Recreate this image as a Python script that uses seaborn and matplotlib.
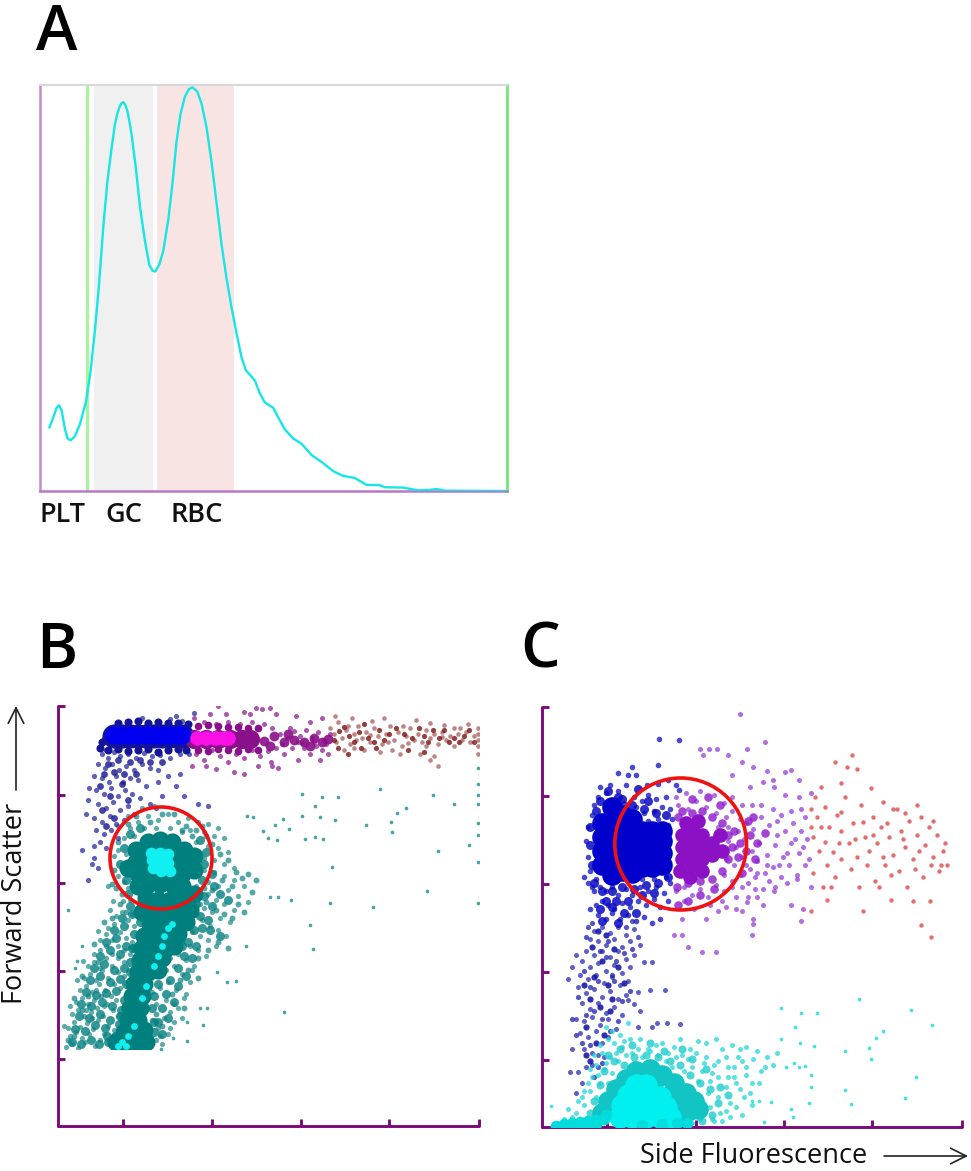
# flow cytometry figure: histogram (A) and two scatter panels (B, C)

import pandas as pd
import seaborn as sns
import matplotlib
matplotlib.use('Agg')
import matplotlib.pyplot as plt
from matplotlib.patches import Circle, FancyArrowPatch, Rectangle

# ---- panel A, histogram curve ----
curve_x = [28, 40, 50, 57, 65, 75, 83, 92, 105, 120, 138, 152, 165, 177, 190, 202, 215, 225, 232, 238, 244, 250,
           256, 262, 268, 275, 288, 300, 315, 328, 338, 346, 358, 370, 385, 398, 410, 422, 435, 447, 458, 472, 485,
           500, 515, 530, 545, 560, 575, 590, 605, 618, 632, 645, 660, 675, 700, 715, 735, 760, 785, 815,
           845, 880, 910, 945, 980, 1020, 1035, 1090, 1135, 1170, 1190, 1215, 1402]
curve_y = [185, 215, 243, 250, 235, 180, 153, 148, 160, 195, 260, 350, 470, 600, 770, 900, 1000, 1070, 1100, 1118,
           1130, 1134, 1126, 1110, 1080, 1040, 940, 830, 730, 660, 642, 640, 660, 700, 790, 900, 1020, 1100, 1150,
           1172, 1177, 1165, 1130, 1060, 960, 840, 720, 620, 535, 460, 390, 352, 337, 322, 285, 258, 243, 215, 180,
           153, 138, 105, 85, 58, 44, 38, 18, 17, 11, 10, 2, 3, 6, 1, 0]
hist_labels = ['PLT', 'GC', 'RBC']
gc_range = [162, 338]
rbc_range = [352, 582]
plt_gate = 140

# ---- panel B, forward scatter against side scatter ----
b_teal_core = [(102, 266), (90, 266), (114, 266), (78, 264), (126, 264), (102, 254), (102, 278), (90, 278),
               (114, 278), (90, 254), (114, 254), (80, 252), (124, 252), (78, 276), (126, 276), (102, 286),
               (90, 284), (114, 284), (102, 242), (90, 242), (114, 242), (80, 240), (124, 240), (136, 256),
               (136, 270), (70, 258), (100, 226), (112, 226), (124, 228), (88, 228), (136, 232), (96, 214),
               (108, 214), (120, 214), (132, 216), (84, 214), (92, 202), (104, 202), (116, 202), (128, 204),
               (86, 190), (98, 190), (110, 190), (120, 192), (84, 178), (96, 178), (108, 178), (116, 180),
               (82, 166), (94, 166), (104, 168), (80, 154), (90, 154), (100, 156), (76, 142), (86, 142),
               (74, 130), (84, 130), (72, 118), (82, 118), (70, 106), (80, 106), (66, 94), (76, 94), (86, 96),
               (58, 84), (68, 84), (78, 84), (88, 84)]
b_teal_mid = [(14, 84), (23, 82), (33, 86), (41, 82), (49, 90), (17, 97), (27, 95), (37, 101), (47, 98), (57, 90),
              (21, 110), (31, 108), (42, 112), (52, 106), (61, 102), (23, 122), (33, 120), (44, 124), (54, 120),
              (63, 116), (28, 134), (38, 131), (48, 133), (58, 135), (32, 146), (42, 150), (52, 144), (62, 147),
              (36, 158), (46, 162), (56, 156), (66, 158), (42, 170), (52, 176), (62, 172), (72, 164), (48, 184),
              (58, 188), (68, 180), (76, 178), (56, 196), (66, 200), (76, 192), (64, 208), (74, 212), (82, 204),
              (72, 220), (70, 232), (68, 246), (62, 262), (66, 278), (72, 292), (82, 298), (138, 222), (146, 230),
              (154, 220), (142, 210), (150, 206), (136, 196), (144, 198), (130, 184), (138, 180), (126, 170),
              (134, 168), (120, 158), (128, 150), (112, 146), (120, 140), (108, 132), (116, 124), (104, 118),
              (110, 108), (100, 104), (96, 94), (104, 92), (144, 246), (154, 252), (146, 262), (148, 274),
              (142, 286), (156, 240), (162, 232), (170, 226), (152, 196), (162, 190), (74, 178), (72, 154),
              (68, 142), (66, 126), (62, 110), (94, 118), (96, 130), (100, 142), (108, 166), (124, 180), (50, 84), (96, 104)]
b_teal_extra = [(124, 296), (134, 290), (144, 300), (154, 282), (162, 272), (170, 266), (178, 254), (184, 248),
                (174, 240), (164, 246), (154, 236), (146, 238), (138, 212), (148, 224), (158, 216), (166, 212),
                (174, 208), (180, 222), (186, 214), (194, 234), (198, 246), (190, 252), (160, 184), (170, 178),
                (150, 176), (140, 168), (130, 156), (122, 146), (140, 148), (114, 132), (126, 118), (104, 100),
                (98, 112), (92, 88), (84, 102), (16, 90), (10, 86), (24, 116), (16, 128), (30, 130), (24, 150),
                (40, 164), (36, 182), (46, 204), (54, 208), (62, 222), (58, 238), (64, 232), (56, 256), (60, 284),
                (70, 302), (78, 310), (92, 304), (104, 312), (116, 312), (128, 300), (138, 296), (148, 290), (54, 242), (68, 214)]
b_cyan_center = [(102, 264), (94, 266), (110, 263), (102, 273), (103, 255), (95, 258), (110, 272), (93, 273), (112, 255)]
b_cyan_band = [(110, 198), (114, 202), (106, 190), (104, 180), (100, 170), (96, 160), (88, 140), (84, 128), (76, 100),
               (70, 90), (64, 84), (60, 80), (68, 80)]
b_teal_sparse = [(8, 79), (14, 82), (20, 78), (27, 84), (12, 90), (18, 94), (24, 88), (31, 92), (37, 80), (42, 86),
                 (10, 98), (16, 104), (22, 99), (29, 103), (35, 97), (40, 106), (46, 92), (52, 84), (14, 112),
                 (20, 116), (26, 110), (33, 114), (39, 118), (45, 110), (50, 100), (56, 96), (18, 124), (24, 128),
                 (30, 122), (36, 126), (43, 130), (49, 122), (55, 116), (60, 110), (22, 136), (28, 140), (34, 134),
                 (41, 142), (47, 136), (53, 130), (58, 126), (26, 148), (32, 152), (38, 146), (44, 156), (50, 148),
                 (56, 142), (62, 138), (30, 160), (36, 164), (42, 158), (48, 168), (54, 160), (60, 154), (66, 150),
                 (36, 172), (42, 176), (48, 180), (54, 172), (60, 168), (66, 164), (42, 186), (48, 192), (54, 186),
                 (60, 180), (66, 176), (72, 172), (50, 198), (56, 202), (62, 194), (68, 188), (74, 184), (58, 210),
                 (64, 214), (70, 206), (76, 200), (52, 216), (12, 120), (6, 100), (19, 146), (25, 165), (40, 195),
                 (92, 80), (98, 86), (104, 82), (110, 92), (100, 98), (94, 106), (106, 108), (112, 114), (90, 118),
                 (98, 122), (108, 126), (116, 104), (120, 118), (94, 134), (102, 138), (110, 144), (118, 136),
                 (126, 128), (100, 150), (108, 156), (116, 160), (124, 152), (132, 144), (112, 168), (120, 172),
                 (128, 166), (136, 160), (124, 184), (132, 180), (140, 176), (148, 170), (134, 194), (142, 190),
                 (150, 186), (158, 180), (144, 206), (152, 200), (160, 196), (168, 190), (146, 218), (154, 214),
                 (162, 208), (172, 204), (150, 232), (158, 226), (166, 222), (176, 216), (150, 244), (160, 240),
                 (170, 236), (180, 230), (190, 224), (146, 256), (156, 254), (166, 250), (176, 246), (186, 240),
                 (146, 268), (156, 266), (166, 262), (176, 258), (150, 280), (160, 278), (170, 274), (146, 294),
                 (156, 290), (166, 288), (140, 304), (150, 302), (160, 298), (60, 250), (64, 262), (60, 276),
                 (66, 288), (72, 298), (80, 304), (90, 310), (100, 306), (110, 312), (120, 304), (130, 308),
                 (70, 310), (84, 318), (96, 320), (60, 300), (56, 270), (50, 240), (55, 225), (65, 225), (70, 238),
                 (74, 212), (142, 222), (138, 240), (138, 284), (132, 296), (68, 272), (76, 290), (86, 298),
                 (98, 298), (112, 298), (124, 294), (66, 244), (72, 226), (78, 216), (128, 132), (116, 122),
                 (134, 156), (124, 108), (112, 98), (102, 90), (34, 108), (28, 116), (46, 120), (38, 136)]
b_teal_far = [(244, 332), (264, 329), (280, 329), (257, 320), (244, 310), (262, 309), (277, 306), (225, 307),
              (231, 297), (189, 310), (195, 309), (217, 301), (205, 295), (210, 288), (219, 286), (247, 287),
              (257, 289), (265, 287), (308, 301), (333, 304), (339, 313), (348, 318), (322, 337), (375, 331),
              (396, 322), (334, 294), (411, 281), (380, 275), (274, 259), (369, 235), (272, 223), (315, 219),
              (252, 201), (233, 226), (212, 229), (220, 229), (420, 358), (420, 342), (420, 331), (420, 322),
              (420, 303), (420, 291), (420, 264), (420, 223), (255, 177), (188, 180), (159, 154), (169, 144),
              (178, 145), (226, 114), (142, 118), (149, 118), (145, 101), (129, 104), (129, 85), (115, 88),
              (103, 77), (24, 180), (19, 165), (17, 158), (10, 216)]
b_blue_band = [56, 64, 72, 80, 88, 96, 104, 112, 120, 124]
b_blue_edge = [(48, 388), (44, 384), (42, 378), (50, 376), (60, 377), (70, 375), (80, 376), (90, 377), (100, 374),
               (110, 376), (120, 377), (128, 376), (60, 403), (70, 404), (80, 405), (90, 403), (100, 404), (110, 403),
               (120, 403), (130, 402)]
b_blue_sparse = [(44, 372), (50, 368), (56, 374), (62, 370), (70, 372), (78, 368), (86, 373), (94, 370), (102, 371),
                 (112, 368), (122, 372), (40, 362), (47, 358), (54, 362), (61, 356), (68, 360), (76, 356), (84, 362),
                 (92, 358), (100, 356), (36, 350), (44, 348), (51, 344), (58, 350), (65, 344), (72, 348), (80, 346),
                 (88, 340), (31, 338), (38, 336), (46, 332), (53, 338), (60, 330), (67, 336), (74, 332), (82, 328),
                 (92, 322), (30, 326), (40, 322), (48, 318), (55, 324), (62, 316), (70, 320), (76, 312), (28, 312),
                 (36, 308), (44, 304), (52, 310), (58, 302), (66, 306), (38, 296), (46, 292), (53, 296), (60, 288),
                 (42, 284), (48, 278), (36, 280), (24, 276), (36, 268), (40, 258), (30, 246), (34, 262), (118, 340),
                 (122, 352), (110, 350), (100, 344), (104, 330), (126, 330), (98, 318), (140, 322), (150, 320),
                 (118, 410), (136, 413), (124, 405), (70, 405), (48, 376), (84, 408), (112, 407), (131, 372)]
b_blue_mid = [(50, 362), (60, 366), (72, 364), (82, 366), (92, 364), (104, 364), (46, 352), (56, 354), (66, 352),
              (78, 352), (42, 340), (52, 330), (64, 342), (70, 326), (44, 316), (56, 308), (48, 300)]
b_magenta = [139, 148, 157, 166, 170]
b_purple_band = [136, 148, 160, 172, 184, 192]
b_purple_edge = [(140, 376), (150, 375), (160, 377), (170, 376), (180, 375), (190, 377), (140, 400), (150, 401),
                 (160, 400), (170, 399), (180, 399), (190, 398), (200, 398), (200, 376)]
b_purple_thin = [(196, 387), (206, 385), (216, 390), (226, 384), (236, 386), (246, 384), (256, 388), (264, 384),
                 (270, 387), (212, 380), (230, 392), (252, 380)]
b_purple_sparse = [(138, 372), (146, 366), (154, 376), (162, 370), (170, 364), (178, 372), (186, 368), (194, 376),
                   (202, 370), (210, 375), (218, 378), (226, 372), (234, 378), (240, 384), (246, 378), (252, 372),
                   (258, 380), (264, 376), (270, 372), (222, 392), (230, 388), (236, 395), (242, 390), (248, 396),
                   (254, 388), (260, 394), (266, 386), (272, 392), (224, 382), (232, 398), (244, 383), (256, 384),
                   (268, 382), (214, 398), (206, 402), (194, 404), (182, 402), (170, 404), (158, 402), (146, 404),
                   (136, 408), (152, 412), (168, 412), (186, 414), (204, 417), (218, 412), (238, 410), (252, 404),
                   (264, 408), (192, 412), (148, 360), (158, 357), (176, 354), (186, 352), (213, 364), (214, 360),
                   (220, 358), (134, 360), (240, 366), (262, 366), (200, 360), (160, 420), (198, 418), (212, 418)]
b_red_sparse = [(272, 398), (276, 392), (280, 404), (284, 388), (288, 396), (292, 382), (296, 392), (300, 400),
                (304, 388), (308, 394), (312, 384), (316, 398), (320, 390), (324, 382), (328, 392), (332, 400),
                (336, 386), (340, 394), (344, 380), (348, 390), (352, 398), (356, 386), (360, 392), (364, 384),
                (368, 396), (372, 388), (376, 392), (380, 382), (384, 394), (388, 386), (392, 390), (396, 380),
                (400, 392), (404, 386), (408, 394), (412, 384), (416, 390), (420, 398), (420, 392), (420, 386),
                (420, 380), (278, 384), (286, 376), (296, 378), (306, 376), (322, 374), (334, 376), (345, 400),
                (358, 406), (372, 403), (386, 401), (396, 398), (410, 402), (277, 410), (294, 408), (314, 405),
                (326, 408), (342, 372), (362, 372), (376, 370), (372, 366), (380, 360), (420, 372), (290, 400),
                (298, 386), (312, 391), (330, 384), (350, 383), (368, 380), (384, 389), (402, 398)]
b_red_dark = [(276, 386), (281, 395), (286, 399), (291, 390), (296, 384), (301, 394), (306, 402), (310, 388),
              (316, 384), (321, 396), (326, 386), (331, 392), (338, 398), (346, 392), (354, 388), (361, 398),
              (366, 390), (370, 384), (375, 396), (381, 388), (386, 396), (391, 384), (396, 388), (401, 384),
              (406, 390), (411, 396), (416, 384), (280, 378), (290, 372), (303, 378), (318, 378), (350, 376), (366, 374)]

# ---- panel C, forward scatter against side fluorescence ----
c_blue_core = [(60, 262), (60, 276), (60, 290), (60, 304), (70, 252), (70, 266), (70, 280), (70, 294), (70, 308),
               (70, 320), (80, 256), (80, 270), (80, 284), (80, 298), (80, 312), (90, 254), (90, 268), (90, 282),
               (90, 296), (90, 308), (100, 260), (100, 272), (100, 284), (100, 296), (110, 260), (110, 272),
               (110, 284), (110, 296), (120, 262), (120, 274), (120, 286), (120, 296)]
c_blue_mid = [(48, 282), (50, 262), (48, 300), (52, 244), (54, 316), (58, 326), (66, 336), (76, 330), (60, 236),
              (70, 236), (80, 240), (92, 238), (104, 242), (116, 244), (126, 250), (90, 322), (102, 318), (114, 314),
              (124, 312), (96, 338), (106, 326), (80, 328), (64, 226), (74, 226), (86, 226), (100, 232), (112, 234),
              (58, 218), (70, 220), (82, 214), (94, 214), (60, 206), (76, 204)]
c_blue_sparse = [(46, 300), (44, 286), (46, 270), (48, 256), (46, 244), (50, 312), (50, 240), (52, 322), (56, 330),
                 (54, 248), (52, 236), (58, 340), (64, 334), (68, 342), (76, 336), (84, 342), (74, 326), (82, 324),
                 (92, 330), (100, 326), (106, 332), (114, 328), (124, 330), (120, 320), (112, 316), (102, 314),
                 (94, 320), (128, 318), (130, 308), (116, 308), (106, 306), (126, 302), (58, 240), (64, 236),
                 (70, 240), (76, 232), (84, 238), (90, 232), (98, 240), (106, 236), (114, 240), (122, 234),
                 (128, 244), (124, 250), (112, 248), (100, 248), (60, 226), (66, 222), (72, 218), (80, 224),
                 (88, 220), (96, 226), (104, 222), (112, 228), (118, 220), (126, 226), (54, 222), (42, 250),
                 (48, 218), (56, 212), (64, 208), (70, 214), (78, 208), (86, 212), (94, 206), (102, 210),
                 (110, 204), (118, 208), (86, 352), (76, 354), (90, 360), (105, 342), (116, 343), (134, 342),
                 (137, 337), (117, 388), (137, 387), (116, 362), (94, 352), (126, 347)]
c_blue_extra = [(44, 190), (50, 204), (58, 176), (66, 186), (74, 166), (82, 174), (90, 178), (96, 190), (42, 156),
                (48, 140), (56, 146), (64, 170), (72, 146), (80, 126), (88, 136), (36, 130), (44, 112), (52, 116),
                (60, 108), (68, 96), (76, 106), (40, 84), (48, 82), (56, 60), (52, 50), (60, 64), (34, 92), (30, 108),
                (46, 200), (84, 200), (90, 206), (70, 152)]
c_purple_core = [(140, 268), (140, 280), (140, 292), (150, 262), (150, 274), (150, 286), (150, 298), (160, 268),
                 (160, 280), (160, 292), (170, 272), (170, 284), (144, 304), (156, 306), (138, 256), (148, 250),
                 (160, 256), (178, 292), (180, 276)]
c_purple_mid = [(135, 240), (146, 244), (158, 246), (170, 248), (180, 256), (186, 268), (190, 280), (186, 292),
                (180, 304), (170, 310), (160, 316), (150, 314), (140, 316), (136, 310), (192, 296), (198, 284),
                (196, 270), (204, 276), (208, 292), (214, 268), (200, 254), (172, 238), (158, 232), (146, 226),
                (136, 222), (178, 322), (166, 330), (150, 328), (216, 284), (224, 294), (206, 306), (212, 310)]
c_purple_sparse = [(134, 236), (142, 240), (150, 232), (158, 238), (166, 230), (174, 242), (182, 236), (190, 246),
                   (136, 322), (146, 318), (154, 326), (164, 320), (174, 314), (182, 324), (190, 316), (198, 308),
                   (134, 330), (144, 334), (158, 336), (172, 332), (184, 310), (176, 300), (186, 300), (196, 296),
                   (204, 304), (212, 298), (220, 310), (228, 302), (236, 306), (244, 296), (252, 304), (260, 296),
                   (264, 310), (186, 286), (194, 280), (202, 288), (210, 276), (218, 284), (226, 272), (234, 282),
                   (242, 270), (250, 284), (258, 274), (266, 288), (184, 268), (192, 262), (200, 270), (208, 258),
                   (216, 266), (224, 254), (232, 260), (240, 250), (248, 262), (256, 252), (264, 262), (182, 252),
                   (190, 240), (198, 252), (206, 244), (214, 250), (222, 238), (234, 240), (246, 244), (256, 248),
                   (270, 240), (205, 225), (216, 230), (222, 222), (233, 236), (250, 222), (262, 218), (194, 218),
                   (184, 220), (206, 230), (200, 216), (140, 208), (164, 208), (176, 216), (212, 208), (260, 206),
                   (232, 347), (208, 340), (222, 345), (233, 340), (244, 332), (258, 330), (270, 334), (212, 360),
                   (226, 356), (244, 355), (250, 357), (258, 347), (190, 352), (158, 378), (186, 372), (200, 365),
                   (205, 378), (224, 385), (198, 413), (161, 372), (167, 378), (175, 378), (132, 192), (140, 192),
                   (146, 180), (160, 175), (174, 175), (212, 203), (211, 192), (190, 330), (200, 322), (210, 322),
                   (220, 322), (232, 318), (240, 312), (250, 316), (200, 240), (214, 238), (228, 246), (238, 262),
                   (246, 274), (254, 288), (236, 292), (226, 262), (216, 254), (204, 262), (194, 230), (180, 226),
                   (168, 222), (152, 218), (142, 226), (262, 280), (268, 268), (260, 318)]
c_red_sparse = [(272, 290), (276, 310), (274, 330), (280, 340), (284, 320), (288, 300), (292, 275), (296, 312),
                (300, 296), (304, 330), (308, 284), (312, 304), (316, 270), (320, 322), (324, 290), (328, 276),
                (332, 310), (336, 284), (340, 300), (344, 262), (348, 290), (352, 272), (356, 318), (360, 296),
                (364, 280), (368, 306), (372, 268), (376, 292), (380, 310), (384, 282), (388, 300), (392, 270),
                (396, 292), (400, 262), (404, 284), (270, 318), (278, 276), (286, 262), (294, 250), (300, 268),
                (310, 258), (318, 240), (326, 262), (334, 246), (342, 270), (350, 252), (358, 256), (366, 240),
                (374, 258), (382, 250), (390, 262), (398, 256), (406, 262), (272, 254), (282, 240), (290, 240),
                (316, 358), (294, 365), (311, 372), (300, 344), (306, 360), (330, 339), (342, 325), (352, 318),
                (364, 314), (376, 322), (286, 227), (270, 216), (322, 216), (338, 240), (350, 227), (372, 226),
                (389, 226), (390, 190), (380, 202), (284, 285), (298, 284), (314, 288), (332, 292), (346, 304),
                (362, 288), (378, 276), (392, 306), (402, 276), (270, 300), (280, 300), (300, 315), (322, 305)]
c_blue_column = [(52, 196), (60, 200), (68, 194), (76, 200), (84, 192), (92, 198), (48, 188), (56, 186), (64, 182),
                 (72, 188), (80, 180), (88, 186), (98, 182), (44, 176), (52, 172), (60, 176), (68, 170), (76, 176),
                 (84, 168), (92, 172), (40, 166), (48, 160), (56, 164), (64, 156), (72, 162), (80, 154), (88, 160),
                 (38, 152), (46, 148), (54, 152), (62, 144), (70, 150), (78, 142), (86, 146), (36, 140), (44, 134),
                 (52, 138), (60, 130), (68, 136), (76, 128), (84, 132), (40, 124), (48, 118), (56, 124), (64, 114),
                 (72, 120), (80, 112), (34, 108), (42, 106), (50, 110), (58, 102), (66, 108), (74, 98), (38, 94),
                 (46, 90), (54, 96), (60, 84), (66, 90), (30, 78), (42, 78), (50, 74), (56, 72), (62, 70), (44, 60),
                 (36, 55), (40, 44), (50, 62), (28, 55), (34, 34), (102, 165), (110, 165), (108, 137), (123, 137),
                 (96, 135), (86, 127), (92, 123), (115, 104), (125, 104), (98, 116), (110, 100), (138, 103),
                 (96, 100), (34, 172), (30, 160), (26, 148)]
c_blue_column_dark = [(56, 196), (64, 192), (72, 178), (60, 166), (52, 150), (66, 142), (58, 120), (48, 128), (44, 100),
                      (54, 84), (48, 66), (44, 72), (62, 92), (70, 128), (76, 160), (82, 144), (68, 116), (42, 142), (50, 180)]
c_cyan_solid = [(78, 10), (90, 10), (104, 10), (118, 10), (128, 10), (80, 22), (90, 22), (102, 22), (114, 22), (124, 20),
                (86, 32), (96, 34), (108, 32), (118, 30), (94, 42), (104, 42)]
c_teal_solid = [(60, 14), (66, 26), (74, 38), (84, 48), (94, 56), (108, 58), (120, 52), (132, 44), (144, 34),
                (152, 26), (146, 16), (136, 10), (156, 18), (112, 46), (128, 30), (142, 24), (100, 50)]
c_tail = [(14, 1), (22, 3), (30, 4), (38, 5), (46, 6), (54, 7), (62, 8), (100, 2), (120, 3), (135, 4), (145, 4),
          (34, 1), (44, 2), (54, 3), (64, 12)]
c_cyan_mid = [(58, 42), (52, 26), (62, 56), (72, 66), (82, 62), (92, 70), (104, 72), (116, 70), (128, 66), (138, 62),
              (148, 52), (158, 44), (168, 38), (176, 24), (170, 12), (160, 6), (66, 72), (78, 78), (90, 82), (108, 84),
              (122, 76), (140, 78), (150, 68), (164, 58), (178, 40), (186, 32), (48, 14), (56, 8)]
c_cyan_sparse = [(64, 100), (70, 96), (78, 92), (86, 104), (72, 84), (80, 80), (88, 88), (96, 78), (60, 74), (68, 70),
                 (76, 66), (84, 72), (92, 64), (54, 62), (62, 58), (70, 54), (50, 50), (58, 44), (48, 36), (54, 30),
                 (42, 22), (40, 30), (34, 14), (26, 18), (100, 70), (108, 76), (116, 72), (124, 66), (132, 80),
                 (140, 72), (148, 78), (156, 86), (120, 84), (138, 88), (164, 70), (172, 62), (180, 78), (176, 50),
                 (168, 46), (160, 56), (150, 60), (184, 40), (176, 30), (168, 20), (158, 8), (178, 14), (188, 24),
                 (192, 50), (198, 38), (204, 60), (212, 68), (220, 56), (196, 70), (186, 60), (164, 84), (174, 88),
                 (190, 82), (198, 78), (204, 80), (226, 70), (232, 62), (210, 44), (204, 52), (188, 10), (170, 8),
                 (150, 4), (200, 12), (180, 6), (60, 30), (66, 44), (106, 64), (130, 60), (142, 56), (124, 58),
                 (156, 46), (166, 34), (58, 82), (66, 88), (74, 74), (82, 86), (90, 74), (98, 88), (106, 78), (114, 82),
                 (126, 74), (134, 70), (146, 68), (154, 74), (162, 64), (170, 54), (176, 66), (184, 70), (192, 60),
                 (200, 66), (186, 50), (194, 44), (202, 30), (194, 20), (184, 16), (172, 6), (210, 22), (208, 34),
                 (218, 44), (224, 60), (236, 74), (216, 76), (46, 44), (42, 36), (36, 26), (30, 10), (22, 8), (56, 52),
                 (64, 64), (52, 72), (48, 58)]
c_cyan_far = [(318, 128), (240, 119), (260, 114), (276, 114), (254, 100), (370, 117), (391, 102), (342, 96), (335, 89),
              (240, 88), (259, 84), (273, 81), (304, 76), (328, 79), (330, 68), (375, 50), (364, 29), (304, 37),
              (310, 23), (268, 24), (270, 40), (270, 52), (253, 64), (264, 61), (258, 60), (245, 60), (230, 25),
              (218, 26), (210, 26), (250, 18), (252, 10), (223, 5), (9, 21)]

axis_ticks_x = [65, 154, 243, 331, 421]
axis_ticks_y = [67, 155, 243, 331, 420]

FIG_W, FIG_H = 971, 1171
PURPLE = '#7d0a7d'


def box(left, top, right, bottom):
    # axes position from pixel box
    return [left / FIG_W, 1 - bottom / FIG_H, (right - left) / FIG_W, (bottom - top) / FIG_H]


def dots(ax, pairs, color, size=7, alpha=0.7, zorder=2, clip=None):
    xs, ys = zip(*pairs)
    df = pd.DataFrame({'x': xs, 'y': ys})
    before = len(ax.collections)
    sns.scatterplot(data=df, x='x', y='y', ax=ax, color=color, s=size, alpha=alpha,
                    linewidth=0, legend=False, zorder=zorder)
    if clip is not None:
        for coll in ax.collections[before:]:
            coll.set_clip_path(clip)


def style_scatter(ax):
    ax.set_xlim(0, 421)
    ax.set_ylim(0, 420)
    ax.set_xticks(axis_ticks_x)
    ax.set_yticks(axis_ticks_y)
    ax.set_xticklabels([])
    ax.set_yticklabels([])
    ax.set_xlabel('')
    ax.set_ylabel('')
    ax.spines['top'].set_visible(False)
    ax.spines['right'].set_visible(False)
    for side in ['left', 'bottom']:
        ax.spines[side].set_color(PURPLE)
        ax.spines[side].set_linewidth(2.1)
        ax.spines[side].set_capstyle('round')
    ax.tick_params(direction='in', length=5, width=2.1, color=PURPLE, left=True, bottom=True)
    ax.patch.set_alpha(0)


sns.set_theme(style='white')
plt.rcParams['font.family'] = ['Open Sans', 'DejaVu Sans']

fig = plt.figure(figsize=(9.71, 11.71), dpi=100)

# Panel A
ax_a = fig.add_axes(box(40, 85, 507, 491))
ax_a.axvspan(gc_range[0], gc_range[1], color='#f0f0f0', lw=0, zorder=1)
ax_a.axvspan(rbc_range[0], rbc_range[1], color='#f9e4e4', lw=0, zorder=1)
ax_a.axvline(plt_gate, color='#a6f59a', lw=2.2, zorder=2)
sns.lineplot(x=curve_x, y=curve_y, ax=ax_a, color='#16e6e6', lw=1.7, sort=False, zorder=3, estimator=None,
             solid_joinstyle='round')
ax_a.set_xlim(0, 1402)
ax_a.set_ylim(0, 1184)
ax_a.set_xticks([])
ax_a.set_yticks([])
ax_a.spines['top'].set_color('#d8d8d8')
ax_a.spines['left'].set_color('#c48ccb')
ax_a.spines['bottom'].set_color('#b878c4')
ax_a.spines['right'].set_color('#74e874')
for side, lw in [('top', 1.5), ('left', 1.8), ('bottom', 1.8), ('right', 2.0)]:
    ax_a.spines[side].set_linewidth(lw)

for label, px in zip(hist_labels, [39, 105, 170]):
    fig.text(px / FIG_W, 1 - 515 / FIG_H, label, fontsize=19.5, fontweight='semibold', ha='left', va='center', color='#111111')

# Panel B
ax_b = fig.add_axes(box(58, 706, 479, 1126))
floor = Rectangle((0, 77), 421, 343, transform=ax_b.transData)
dots(ax_b, b_teal_core, '#007f7f', size=170, alpha=1, zorder=3, clip=floor)
dots(ax_b, b_teal_mid, '#007f7f', size=42, alpha=0.8, zorder=2, clip=floor)
dots(ax_b, b_teal_extra, '#0a8080', size=18, alpha=0.7, zorder=2, clip=floor)
dots(ax_b, b_teal_sparse, '#0a8080', size=14, alpha=0.65, zorder=2, clip=floor)
dots(ax_b, b_teal_far, '#1a8f8f', size=7, alpha=0.8, zorder=2)
dots(ax_b, b_cyan_center, '#10f0f0', size=70, alpha=1, zorder=4)
dots(ax_b, b_cyan_band, '#10f0f0', size=24, alpha=1, zorder=4, clip=floor)
dots(ax_b, b_blue_sparse, '#1c1c98', size=14, alpha=0.7, zorder=2)
dots(ax_b, b_blue_mid, '#14148f', size=24, alpha=0.8, zorder=2)
dots(ax_b, [(v, 390) for v in b_blue_band], '#14149a', size=300, alpha=1, zorder=3)
dots(ax_b, b_blue_edge, '#14149a', size=34, alpha=1, zorder=3)
dots(ax_b, [(v, 391) for v in b_blue_band], '#0000f0', size=170, alpha=1, zorder=4)
dots(ax_b, [(v, 387) for v in b_purple_band], '#8a0f8a', size=190, alpha=1, zorder=3)
dots(ax_b, b_purple_edge, '#8a0f8a', size=30, alpha=1, zorder=3)
dots(ax_b, [(v, 388) for v in b_magenta], '#fa10e6', size=110, alpha=1, zorder=4)
dots(ax_b, b_purple_thin, '#8a0f8a', size=50, alpha=0.9, zorder=3)
dots(ax_b, b_purple_sparse, '#8a0f8a', size=13, alpha=0.7, zorder=2)
dots(ax_b, b_red_sparse, '#8c2020', size=11, alpha=0.55, zorder=2)
dots(ax_b, b_red_dark, '#7a1212', size=14, alpha=0.8, zorder=2)
ax_b.add_patch(Circle((103, 268), 51, fill=False, ec='#f01212', lw=2.6, zorder=6))
style_scatter(ax_b)

# Panel C
ax_c = fig.add_axes(box(542, 707, 962, 1127))
dots(ax_c, c_blue_column, '#1c1cb0', size=13, alpha=0.7, zorder=2)
dots(ax_c, c_blue_extra, '#1c1cb0', size=14, alpha=0.75, zorder=2)
dots(ax_c, c_blue_column_dark, '#0a0aa8', size=20, alpha=0.85, zorder=2)
dots(ax_c, c_blue_sparse, '#0c0cc0', size=16, alpha=0.75, zorder=2)
dots(ax_c, c_blue_mid, '#0808c4', size=42, alpha=0.85, zorder=2)
dots(ax_c, c_blue_core, '#0000cc', size=220, alpha=1, zorder=3)
dots(ax_c, c_purple_sparse, '#9030d8', size=13, alpha=0.7, zorder=2)
dots(ax_c, c_purple_mid, '#8c18cc', size=38, alpha=0.8, zorder=2)
dots(ax_c, c_purple_core, '#8c10c4', size=110, alpha=1, zorder=3)
dots(ax_c, c_red_sparse, '#d83030', size=10, alpha=0.7, zorder=2)
dots(ax_c, c_cyan_sparse, '#20d8d8', size=13, alpha=0.75, zorder=2)
dots(ax_c, c_cyan_mid, '#20cccc', size=34, alpha=0.8, zorder=2)
dots(ax_c, c_cyan_far, '#30dede', size=7, alpha=0.9, zorder=2)
dots(ax_c, c_teal_solid, '#12c4c4', size=220, alpha=1, zorder=3)
dots(ax_c, c_cyan_solid, '#00f0f0', size=260, alpha=1, zorder=4)
dots(ax_c, c_tail, '#00dcdc', size=70, alpha=1, zorder=4)
ax_c.add_patch(Circle((139, 283), 66, fill=False, ec='#f01212', lw=2.6, zorder=6))
style_scatter(ax_c)

# Panel letters
for letter, px, baseline in [('A', 36, 50), ('B', 36, 668), ('C', 520, 668)]:
    fig.text(px / FIG_W, 1 - baseline / FIG_H, letter, fontsize=45, fontweight='semibold', ha='left', va='baseline', color='black')

# Axis names with their arrows
fig.text(15 / FIG_W, 1 - 903 / FIG_H, 'Forward Scatter', fontsize=19.5, rotation=90, ha='center', va='center', color='#111111')
fig.text(754 / FIG_W, 1 - 1156 / FIG_H, 'Side Fluorescence', fontsize=19.5, ha='center', va='center', color='#111111')
fig.add_artist(FancyArrowPatch((16 / FIG_W, 1 - 790 / FIG_H), (16 / FIG_W, 1 - 706 / FIG_H), transform=fig.transFigure,
                               arrowstyle='->', mutation_scale=28, lw=1.2, color='#222222', shrinkA=0, shrinkB=0))
fig.add_artist(FancyArrowPatch((884 / FIG_W, 1 - 1156 / FIG_H), (968 / FIG_W, 1 - 1156 / FIG_H), transform=fig.transFigure,
                               arrowstyle='->', mutation_scale=28, lw=1.2, color='#222222', shrinkA=0, shrinkB=0))

fig.savefig('out.png', dpi=100)
